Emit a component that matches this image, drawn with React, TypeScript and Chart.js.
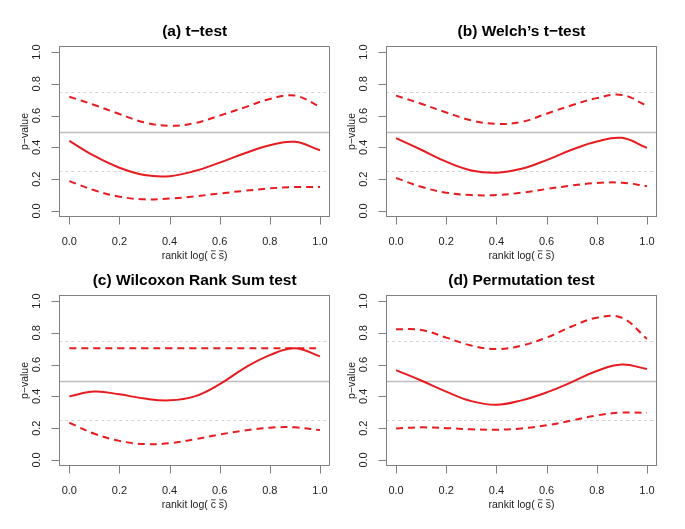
import React, { useEffect, useRef } from "react";
import { Chart, registerables } from "chart.js";

Chart.register(...registerables);

// ---------- data ----------
const xGrid = [0, 0.1, 0.2, 0.3, 0.4, 0.5, 0.6, 0.7, 0.8, 0.9, 1.0];
const tickValues = [0, 0.2, 0.4, 0.6, 0.8, 1.0];
const tickLabels = ["0.0", "0.2", "0.4", "0.6", "0.8", "1.0"];
const refLevels = [0.25, 0.5, 0.75];

const titles = ["(a) t\u2212test", "(b) Welch\u2019s t\u2212test", "(c) Wilcoxon Rank Sum test", "(d) Permutation test"];
// x title pieces: "rankit log( " + c(bar) + " " + s(bar) + ")"
const xTitlePieces = ["rankit log( ", "c", " ", "s", ")"];
const xTitleBarred = [false, true, false, true, false];
const yTitle = "p\u2212value";

const aUpper = [0.719, 0.667, 0.61, 0.557, 0.536, 0.553, 0.6, 0.652, 0.705, 0.726, 0.656];
const aMedian = [0.441, 0.346, 0.272, 0.226, 0.219, 0.251, 0.304, 0.363, 0.414, 0.435, 0.382];
const aLower = [0.188, 0.13, 0.09, 0.073, 0.078, 0.092, 0.11, 0.127, 0.142, 0.15, 0.15];

const bUpper = [0.726, 0.675, 0.62, 0.57, 0.548, 0.56, 0.612, 0.665, 0.71, 0.73, 0.662];
const bMedian = [0.458, 0.385, 0.31, 0.255, 0.24, 0.265, 0.32, 0.385, 0.437, 0.46, 0.397];
const bLower = [0.207, 0.152, 0.115, 0.1, 0.1, 0.115, 0.138, 0.16, 0.176, 0.178, 0.156];

const cUpper = [0.703, 0.703, 0.703, 0.703, 0.703, 0.703, 0.703, 0.703, 0.703, 0.703, 0.703];
const cMedian = [0.4, 0.43, 0.413, 0.386, 0.375, 0.4, 0.477, 0.58, 0.66, 0.703, 0.652];
const cLower = [0.234, 0.165, 0.12, 0.1, 0.105, 0.13, 0.16, 0.185, 0.203, 0.205, 0.188];

const dUpper = [0.823, 0.818, 0.77, 0.72, 0.698, 0.72, 0.77, 0.84, 0.895, 0.895, 0.762];
const dMedian = [0.565, 0.5, 0.43, 0.37, 0.347, 0.375, 0.425, 0.49, 0.56, 0.6, 0.572];
const dLower = [0.198, 0.205, 0.2, 0.193, 0.19, 0.198, 0.218, 0.248, 0.28, 0.298, 0.297];

const seriesSets = [
  [aUpper, aMedian, aLower],
  [bUpper, bMedian, bLower],
  [cUpper, cMedian, cLower],
  [dUpper, dMedian, dLower],
];

// ---------- layout ----------
const W = 685;
const H = 529;
// plot boxes: [left, top, right, bottom]
const boxes = [
  [59.3, 45.7, 330, 217.3],
  [386, 45.7, 657, 217.3],
  [59.3, 294.7, 330, 466.3],
  [386, 294.7, 657, 466.3],
];

const RED = "rgb(232,28,32)";
const FONT = "'Liberation Sans', Arial, Helvetica, sans-serif";

function makeDecor(title: string) {
  return {
    id: "decor",
    beforeDatasetsDraw(chart: any) {
      const { ctx, chartArea: ca, scales } = chart;
      const y = scales.y;
      ctx.save();
      refLevels.forEach((lv) => {
        const py = Math.round(y.getPixelForValue(lv)) + 0.5;
        ctx.beginPath();
        if (lv === 0.5) {
          ctx.strokeStyle = "#bdbdbd";
          ctx.lineWidth = 1.6;
          ctx.setLineDash([]);
        } else {
          ctx.strokeStyle = "#d4d4d4";
          ctx.lineWidth = 1;
          ctx.setLineDash([3, 3]);
        }
        ctx.moveTo(ca.left, py);
        ctx.lineTo(ca.right, py);
        ctx.stroke();
      });
      ctx.restore();
    },
    afterDraw(chart: any) {
      const { ctx, chartArea: ca, scales } = chart;
      const x = scales.x;
      const y = scales.y;
      ctx.save();
      // box
      ctx.strokeStyle = "#808080";
      ctx.lineWidth = 1;
      ctx.setLineDash([]);
      const L = Math.round(ca.left) + 0.5;
      const T = Math.round(ca.top) + 0.5;
      const R = Math.round(ca.right) - 0.5;
      const B = Math.round(ca.bottom) - 0.5;
      ctx.strokeRect(L, T, R - L, B - T);
      // ticks
      ctx.beginPath();
      tickValues.forEach((v) => {
        const px = Math.round(x.getPixelForValue(v)) + 0.5;
        ctx.moveTo(px, B);
        ctx.lineTo(px, B + 8);
        const py = Math.round(y.getPixelForValue(v)) + 0.5;
        ctx.moveTo(L, py);
        ctx.lineTo(L - 8, py);
      });
      ctx.stroke();
      // tick labels
      ctx.fillStyle = "#222";
      ctx.font = `11px ${FONT}`;
      ctx.textAlign = "center";
      ctx.textBaseline = "middle";
      tickValues.forEach((v, i) => {
        const px = x.getPixelForValue(v);
        ctx.fillText(tickLabels[i], px, ca.bottom + 25);
        const py = y.getPixelForValue(v);
        ctx.save();
        ctx.translate(ca.left - 22.5, py);
        ctx.rotate(-Math.PI / 2);
        ctx.fillText(tickLabels[i], 0, 0);
        ctx.restore();
      });
      // x axis title with overlines on c and s
      ctx.font = `10.5px ${FONT}`;
      const full = xTitlePieces.join("");
      const totalW = ctx.measureText(full).width;
      let cx = (ca.left + ca.right) / 2 - totalW / 2;
      const baseY = ca.bottom + 42;
      ctx.textAlign = "left";
      ctx.textBaseline = "alphabetic";
      ctx.fillText(full, cx, baseY);
      ctx.strokeStyle = "#222";
      ctx.lineWidth = 0.8;
      ctx.beginPath();
      xTitlePieces.forEach((p, i) => {
        const w = ctx.measureText(p).width;
        if (xTitleBarred[i]) {
          const oy = baseY - 8.5;
          ctx.moveTo(cx + 0.3, oy);
          ctx.lineTo(cx + w - 0.3, oy);
        }
        cx += w;
      });
      ctx.stroke();
      // y axis title
      ctx.textAlign = "center";
      ctx.textBaseline = "middle";
      ctx.save();
      ctx.translate(ca.left - 34, (ca.top + ca.bottom) / 2);
      ctx.rotate(-Math.PI / 2);
      ctx.fillText(yTitle, 0, 0);
      ctx.restore();
      // title
      ctx.fillStyle = "#000";
      ctx.font = `bold 15.5px ${FONT}`;
      ctx.fillText(title, (ca.left + ca.right) / 2, ca.top - 13.5);
      ctx.restore();
    },
  };
}

function Panel({ index }: { index: number }) {
  const ref = useRef<HTMLCanvasElement>(null);
  useEffect(() => {
    const canvas = ref.current;
    if (!canvas) return;
    const [l, t, r, b] = boxes[index];
    const [upper, median, lower] = seriesSets[index];
    const mk = (vals: number[], dashed: boolean) => ({
      data: xGrid.map((xv, i) => ({ x: xv, y: vals[i] })),
      borderColor: RED,
      borderWidth: 2,
      borderDash: dashed ? [7, 5] : [],
      pointRadius: 0,
      tension: 0.4,
      fill: false,
    });
    const chart = new Chart(canvas, {
      type: "line",
      data: {
        datasets: [mk(upper, true), mk(median, false), mk(lower, true)],
      },
      options: {
        responsive: false,
        animation: false,
        devicePixelRatio: 1,
        events: [],
        layout: { padding: { left: l, top: t, right: W - r, bottom: H - b } },
        plugins: {
          legend: { display: false },
          tooltip: { enabled: false },
          title: { display: false },
        },
        scales: {
          x: { type: "linear", min: -0.04, max: 1.04, display: false },
          y: { type: "linear", min: -0.04, max: 1.04, display: false },
        },
      } as any,
      plugins: [makeDecor(titles[index]) as any],
    });
    return () => chart.destroy();
  }, [index]);
  return (
    <canvas
      ref={ref}
      width={W}
      height={H}
      style={{ position: "absolute", left: 0, top: 0, width: W, height: H }}
    />
  );
}

export default function App() {
  return (
    <div
      style={{
        position: "absolute",
        left: 0,
        top: 0,
        width: W,
        height: H,
        background: "#fff",
        overflow: "hidden",
      }}
    >
      {[0, 1, 2, 3].map((i) => (
        <Panel key={i} index={i} />
      ))}
    </div>
  );
}
